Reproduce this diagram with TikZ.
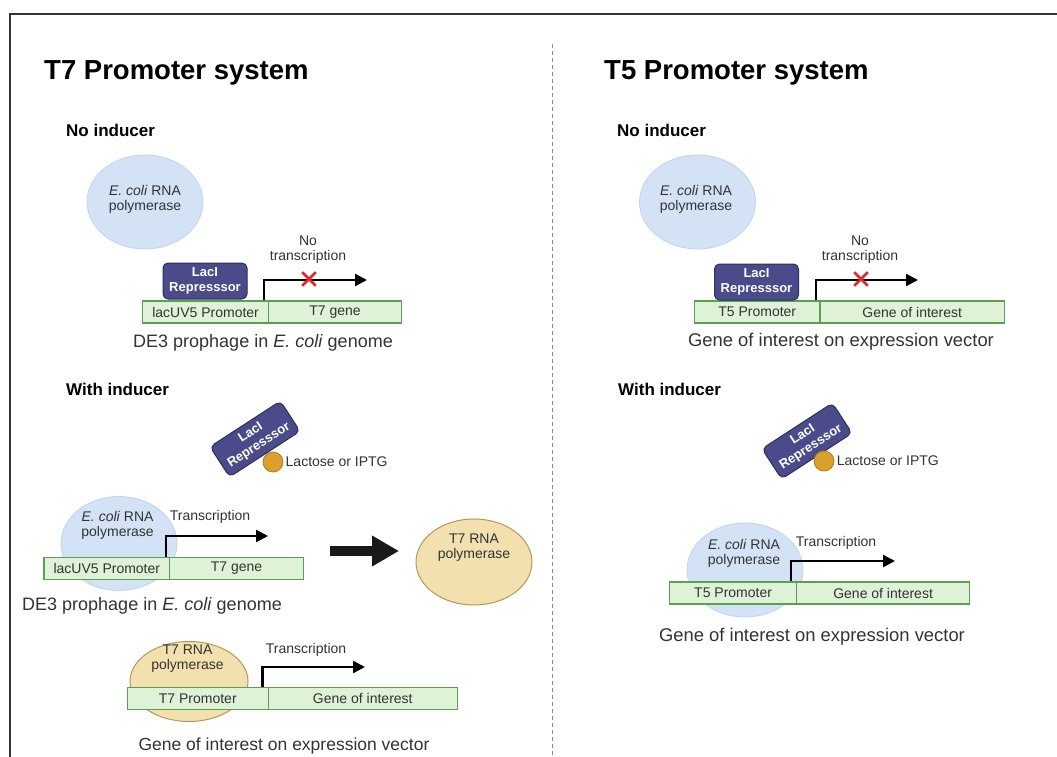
\documentclass[tikz,border=0pt]{standalone}
\usepackage{fontspec}
\setmainfont{Liberation Sans}
\usetikzlibrary{shapes.geometric,shapes.misc,arrows.meta,calc}

\definecolor{ecolifill}{HTML}{D3E3F5}
\definecolor{ecolidraw}{HTML}{BFD4EE}
\definecolor{tsevfill}{HTML}{F2E0AE}
\definecolor{tsevdraw}{HTML}{B8965A}
\definecolor{dnafill}{HTML}{DDF2D6}
\definecolor{dnadraw}{HTML}{5E9E52}
\definecolor{lacfill}{HTML}{4B4B8C}
\definecolor{lacdraw}{HTML}{2E2E5C}
\definecolor{ligfill}{HTML}{D9A12C}
\definecolor{ligdraw}{HTML}{B07D18}
\definecolor{txtgray}{HTML}{333333}
\definecolor{stopred}{HTML}{E0282A}

\tikzset{
  lbl/.style={font=\fontsize{14}{15}\selectfont, text=txtgray, inner sep=0pt, align=center},
  capn/.style={font=\fontsize{18}{19}\selectfont, text=txtgray, inner sep=0pt},
  hdr/.style={font=\fontsize{27.5}{30}\selectfont\bfseries, anchor=base west, inner sep=0pt},
  condn/.style={font=\fontsize{17}{19}\selectfont\bfseries, anchor=base west, inner sep=0pt},
  ecoli/.style={ellipse, draw=ecolidraw, fill=ecolifill, line width=0.8pt,
    minimum width=116pt, minimum height=94pt, inner sep=0pt},
  tsevpol/.style={ellipse, draw=tsevdraw, fill=tsevfill, line width=1pt,
    minimum width=116pt, minimum height=86pt, inner sep=0pt},
  seg/.style={rectangle, draw=dnadraw, fill=dnafill, line width=1.2pt, minimum height=22pt,
    inner sep=0pt, font=\fontsize{14}{15}\selectfont, text=txtgray, anchor=west},
  lacI/.style={rectangle, draw=lacdraw, fill=lacfill, rounded corners=5pt, line width=1pt,
    minimum width=84pt, minimum height=36pt, inner sep=0pt, align=center, text=white,
    font=\fontsize{13}{15}\selectfont\bfseries},
  ligand/.style={circle, draw=ligdraw, fill=ligfill, line width=0.8pt, minimum size=20pt, inner sep=0pt},
  tx/.style={line width=2.5pt, line join=miter, black, -{Triangle[length=12pt,width=12pt]}},
  nostop/.style={cross out, draw=stopred, line width=2.6pt, minimum size=11pt, inner sep=0pt},
  bigarrow/.style={line width=10pt, black!90, -{Triangle[length=27pt,width=29pt]}},
  frameline/.style={line width=2pt, draw=txtgray},
  divider/.style={line width=0.8pt, draw=black!45, dash pattern=on 4pt off 3pt}
}

\begin{document}
\begin{tikzpicture}[x=1pt,y=-1pt]
\useasboundingbox (0,0) rectangle (1057,757);
\fill[white] (0,0) rectangle (1057,757);

% frame and panel divider
\draw[frameline] (10,757) -- (10,14) -- (1057,14);
\coordinate (divtop) at (552,44);
\coordinate (divbot) at (552,757);
\draw[divider] (divtop) -- (divbot);

% ---------------- T7 panel ----------------
\node[hdr] (hT7) at (44,80) {T7 Promoter system};
\node[condn] (nT7) at (66,136.5) {No inducer};

% no inducer
\node[ecoli] (eA) at (145,202) {};
\node[lbl] (eAt) at (145,199) {\textit{E. coli} RNA\\polymerase};
\node[seg, minimum width=126pt] (pA) at (142,312) {lacUV5 Promoter};
\node[seg, minimum width=133pt] (gA) at (268,312) {T7 gene};
\node[lacI] (lA) at (205,281) {LacI\\Represssor};
\coordinate (txA) at (367,280);
\draw[tx] ($(pA.north east)+(-5,0)$) |- (txA);
\node[lbl] (ntA) at (308,250) {No\\transcription};
\node[nostop] (xA) at (309,279) {};
\node[capn] (capA) at (263,343) {DE3 prophage in \textit{E. coli} genome};

% with inducer
\node[condn] (wT7) at (66,395) {With inducer};
\node[lacI, rotate=33] (lB) at (255,439) {LacI\\Represssor};
\node[ligand] (mB) at (273,462) {};
\node[lbl, anchor=west] (mBt) at (285.5,462) {Lactose or IPTG};

\node[ecoli] (eB) at (119,543.5) {};
\node[lbl] (eBt) at (117.6,525) {\textit{E. coli} RNA\\polymerase};
\node[seg, minimum width=125.6pt] (pB) at (43.4,568.5) {lacUV5 Promoter};
\node[seg, minimum width=133.8pt] (gB) at (169,568.5) {T7 gene};
\coordinate (txB) at (268,536);
\draw[tx] ($(pB.north east)+(-4,0)$) |- (txB);
\node[lbl] (tB) at (210,516.5) {Transcription};
\node[capn] (capB) at (152,606) {DE3 prophage in \textit{E. coli} genome};

\node[tsevpol] (tpB) at (474,562) {};
\node[lbl] (tpBt) at (474,548) {T7 RNA\\polymerase};
\coordinate (bigS) at (330,551);
\coordinate (bigE) at (399,551);
\draw[bigarrow] (bigS) -- (bigE);

\node[tsevpol, minimum width=118pt, minimum height=80pt] (tpC) at (189,681.5) {};
\node[lbl] (tpCt) at (187.5,659) {T7 RNA\\polymerase};
\node[seg, minimum width=141pt] (pC) at (126.7,698.5) {T7 Promoter};
\node[seg, minimum width=189pt] (gC) at (267.7,698.5) {Gene of interest};
\coordinate (txC) at (365,667);
\draw[tx] ($(pC.north east)+(-6.5,0)$) |- (txC);
\node[lbl] (tC) at (306,650) {Transcription};
\node[capn, font=\fontsize{17.5}{19}\selectfont] (capC) at (284,746) {Gene of interest on expression vector};

% ---------------- T5 panel ----------------
\node[hdr] (hT5) at (604,80) {T5 Promoter system};
\node[condn] (nT5) at (617,136.5) {No inducer};

% no inducer
\node[ecoli] (eD) at (697.5,202) {};
\node[lbl] (eDt) at (696,199) {\textit{E. coli} RNA\\polymerase};
\node[seg, minimum width=125.3pt] (pD) at (694,312) {T5 Promoter};
\node[seg, minimum width=184.7pt] (gD) at (819.3,312) {Gene of interest};
\node[lacI] (lD) at (756.5,282) {LacI\\Represssor};
\coordinate (txD) at (918,280);
\draw[tx] ($(pD.north east)+(-4.3,0)$) |- (txD);
\node[lbl] (ntD) at (860,250) {No\\transcription};
\node[nostop] (xD) at (861,279) {};
\node[capn, font=\fontsize{18.4}{20}\selectfont] (capD) at (841,342) {Gene of interest on expression vector};

% with inducer
\node[condn] (wT5) at (618,395) {With inducer};
\node[lacI, rotate=33] (lE) at (807,441) {LacI\\Represssor};
\node[ligand] (mE) at (824,461) {};
\node[lbl, anchor=west] (mEt) at (836.7,461) {Lactose or IPTG};

\node[ecoli] (eE) at (745,570) {};
\node[lbl] (eEt) at (744,553) {\textit{E. coli} RNA\\polymerase};
\node[seg, minimum width=127pt] (pE) at (669,593) {T5 Promoter};
\node[seg, minimum width=173pt] (gE) at (796,593) {Gene of interest};
\coordinate (txE) at (895,561);
\draw[tx] ($(pE.north east)+(-6,0)$) |- (txE);
\node[lbl] (tE) at (836,543) {Transcription};
\node[capn, font=\fontsize{18.4}{20}\selectfont] (capE) at (812,637) {Gene of interest on expression vector};
\end{tikzpicture}
\end{document}
